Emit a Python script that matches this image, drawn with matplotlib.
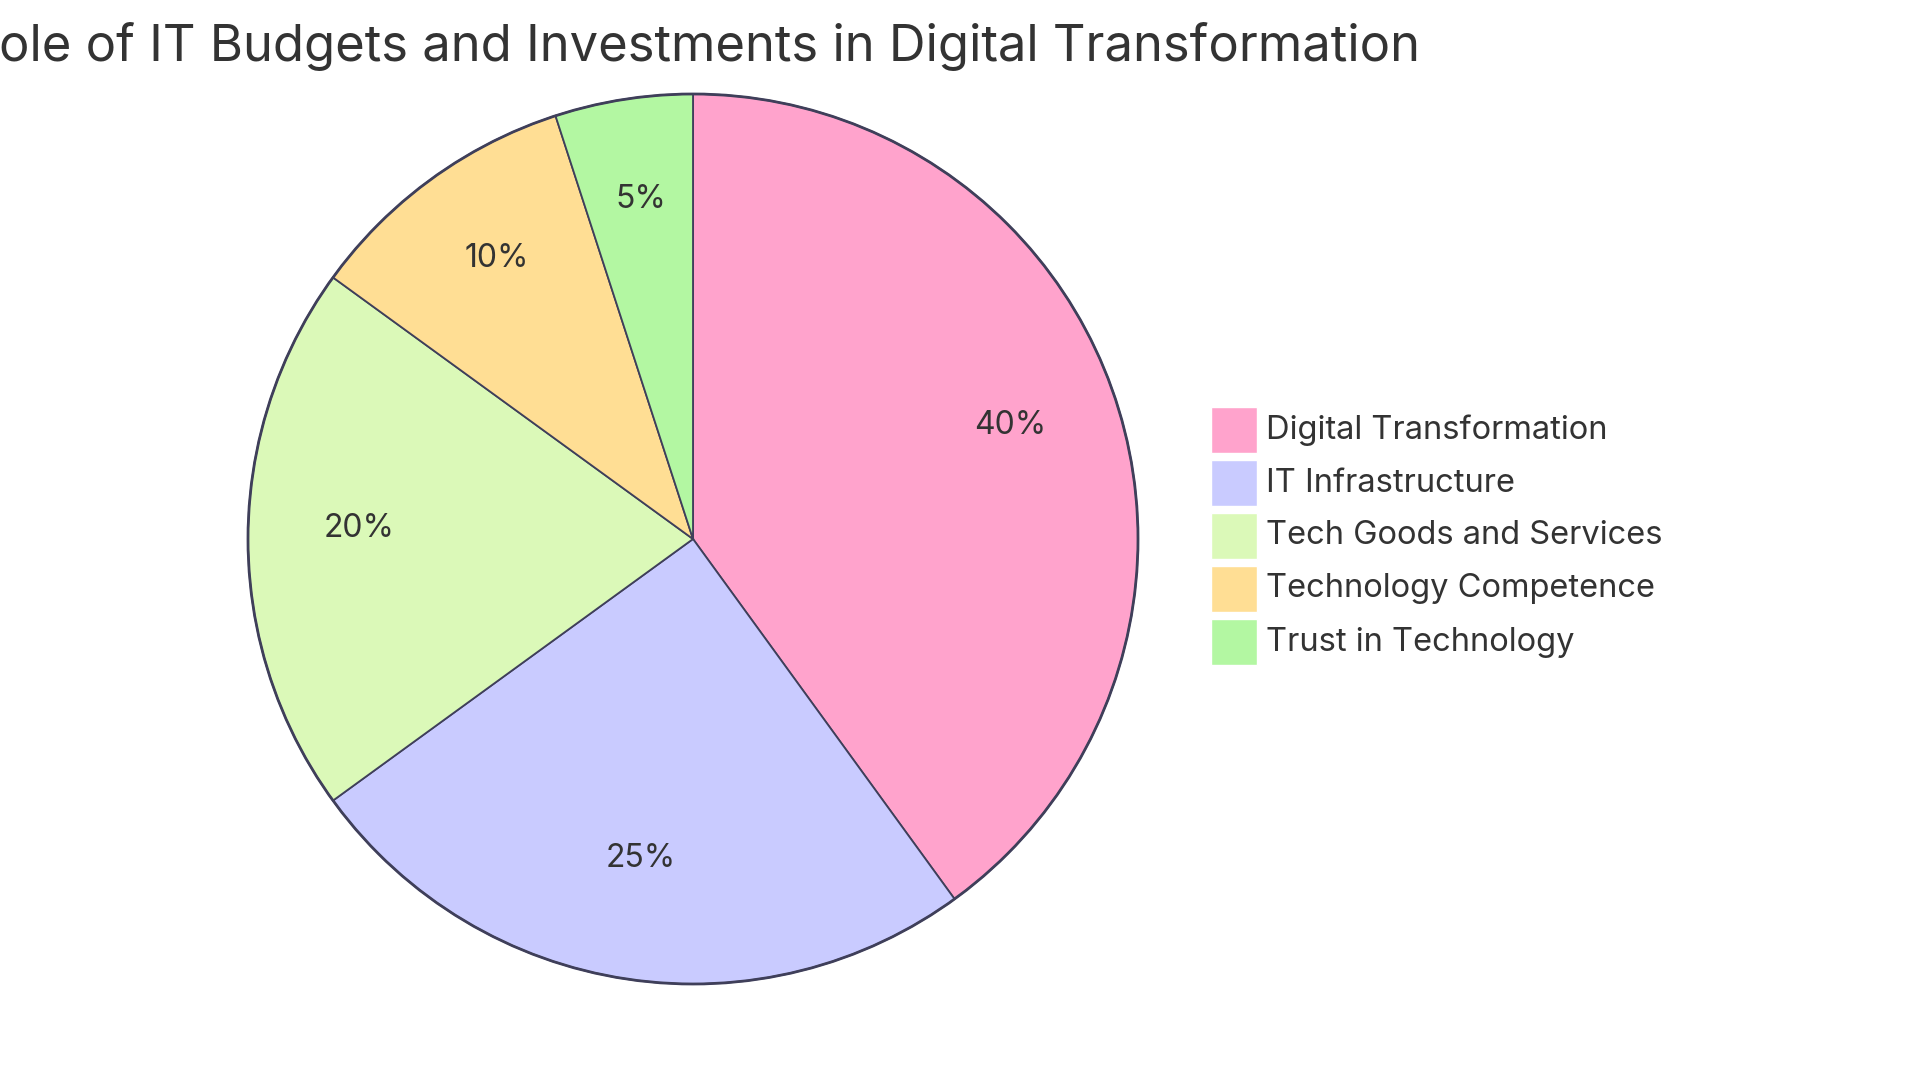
import matplotlib
matplotlib.use("Agg")
import matplotlib.pyplot as plt
from matplotlib.patches import Rectangle, Circle
from matplotlib.transforms import offset_copy

plt.rcParams['font.family'] = ['Inter', 'DejaVu Sans']

title = "The Role of IT Budgets and Investments in Digital Transformation"
categories = ["Digital Transformation", "IT Infrastructure", "Tech Goods and Services",
              "Technology Competence", "Trust in Technology"]
values = [40, 25, 20, 10, 5]
colors = ["#FFA3CC", "#C9CBFF", "#DBF9B8", "#FFDE94", "#B3F7A2"]
edge = "#3F3F5A"
textc = "#333333"

W, H = 1920, 1080
fig = plt.figure(figsize=(W / 100, H / 100), dpi=100)
fig.patch.set_facecolor("white")

cx, cy, r = 693, 539, 445
ax = fig.add_axes([(cx - r) / W, (H - cy - r) / H, 2 * r / W, 2 * r / H])
wedges, texts, autotexts = ax.pie(
    values, colors=colors, startangle=90, counterclock=False, radius=1,
    autopct=lambda p: f"{p:.0f}%", pctdistance=0.75,
    wedgeprops=dict(edgecolor=edge, linewidth=1.3),
    textprops=dict(color=textc, fontsize=23))
for w in wedges:
    w.set_clip_on(False)
for t in autotexts:
    t.set_transform(offset_copy(ax.transData, fig=fig, x=0, y=10, units="dots"))
ax.add_patch(Circle((0, 0), 1, fill=False, edgecolor=edge, linewidth=2.0,
                    zorder=5, clip_on=False))
ax.set_xlim(-1, 1)
ax.set_ylim(-1, 1)
ax.axis("off")

fig.text(1420 / W, 1 - 61 / H, title, ha="right", va="baseline",
         fontsize=36.5, color=textc)

sq = 46
x0, y0, step = 1211, 407, 53
for i, (lab, col) in enumerate(zip(categories, colors)):
    top = y0 + i * step
    fig.add_artist(Rectangle((x0 / W, 1 - (top + sq) / H), sq / W, sq / H,
                             facecolor=col, edgecolor="white", linewidth=1,
                             transform=fig.transFigure))
    fig.text(1266 / W, 1 - (top + sq / 2) / H, lab, ha="left", va="center",
             fontsize=23.5, color=textc)

fig.savefig("out.png", dpi=100)
